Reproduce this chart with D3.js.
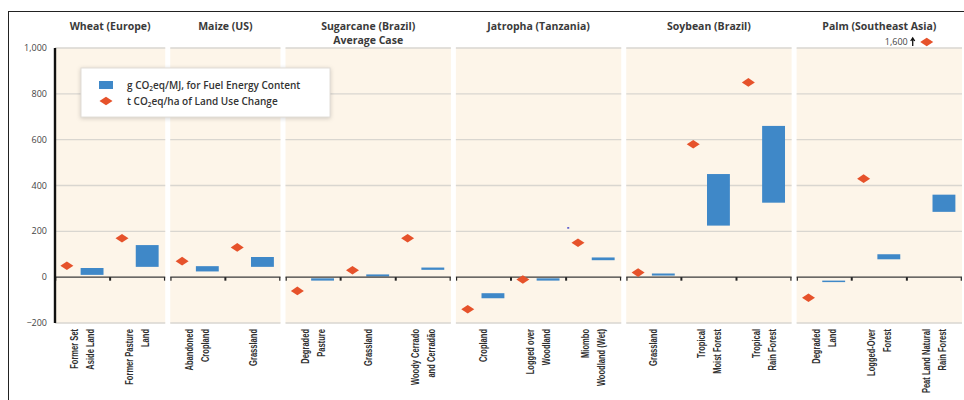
<!DOCTYPE html>
<html>
<head>
<meta charset="utf-8">
<script src="https://cdn.jsdelivr.net/npm/d3@7"></script>
<style>
  html, body { margin: 0; padding: 0; background: #ffffff; }
  svg { display: block; }
  .title { font-family: "Open Sans", "Noto Sans", sans-serif; font-weight: 700; font-size: 10.5px; fill: #3a3a3a; }
  .ytick { font-family: "Open Sans", "Noto Sans", sans-serif; font-size: 9px; fill: #444; }
  .cat { font-family: "Liberation Sans", "Arial", sans-serif; font-size: 10.5px; font-weight: 700; fill: #2e2e2e; }
  .legend { font-family: "Open Sans", "Noto Sans", sans-serif; font-weight: 600; font-size: 10px; fill: #333; }
</style>
</head>
<body>
<svg id="chart" width="964" height="400"></svg>
<script>
// Crops (panel titles) and the land types converted for each one
const crops = ["Wheat (Europe)", "Maize (US)", "Sugarcane (Brazil)|Average Case",
               "Jatropha (Tanzania)", "Soybean (Brazil)", "Palm (Southeast Asia)"];
const landTypes = [
  ["Former Set|Aside Land", "Former Pasture|Land"],
  ["Abandoned|Cropland", "Grassland"],
  ["Degraded|Pasture", "Grassland", "Woody Cerrado|and Cerradão"],
  ["Cropland", "Logged over|Woodland", "Miombo|Woodland (Wet)"],
  ["Grassland", "Tropical|Moist Forest", "Tropical|Rain Forest"],
  ["Degraded|Land", "Logged-Over|Forest", "Peat Land Natural|Rain Forest"]
];
// g CO2eq/MJ for fuel energy content: low end of each range
const fuelLow = [
  [10, 45],
  [25, 45],
  [-15, 3, 32],
  [-92, -15, 74],
  [7, 225, 325],
  [-20, 78, 285]
];
// g CO2eq/MJ for fuel energy content: high end of each range
const fuelHigh = [
  [40, 140],
  [48, 88],
  [-5, 12, 42],
  [-70, -5, 86],
  [16, 450, 660],
  [-15, 100, 360]
];
// t CO2eq/ha of land use change
const landUseChange = [
  [50, 170],
  [70, 130],
  [-60, 30, 170],
  [-140, -10, 150],
  [20, 580, 850],
  [-90, 430, 1600]
];
// Stray point drawn in the Jatropha panel (Miombo woodland)
const jatrophaPoint = { panel: 3, slot: 2, value: 215 };
const yTicks = [-200, 0, 200, 400, 600, 800, 1000];
const yMin = -200, yMax = 1000;

const svg = d3.select("#chart");

// Outer frame (top and left edges)
svg.append("line").attr("x1", 8).attr("x2", 964).attr("y1", 11.5).attr("y2", 11.5)
  .attr("stroke", "#222").attr("stroke-width", 1);
svg.append("line").attr("x1", 8.5).attr("x2", 8.5).attr("y1", 11).attr("y2", 400)
  .attr("stroke", "#222").attr("stroke-width", 1);

const plotLeft = 55, plotRight = 962, gap = 5;
const y = d3.scaleLinear().domain([yMin, yMax]).range([323, 48]);

// Panel widths proportional to number of land types
const totalSlots = d3.sum(landTypes, d => d.length);
const slotW = (plotRight - plotLeft - gap * (crops.length - 1)) / totalSlots;
let cursor = plotLeft;
const panels = crops.map((c, i) => {
  const n = landTypes[i].length;
  const x0 = cursor, x1 = cursor + n * slotW;
  cursor = x1 + gap;
  const band = d3.scaleBand().domain(d3.range(n)).range([x0, x1]).padding(0);
  return { title: c, x0, x1, band, items: landTypes[i].map((lt, j) => ({
    label: lt, lo: fuelLow[i][j], hi: fuelHigh[i][j], luc: landUseChange[i][j]
  })) };
});

const diamond = "M-6.5,0L0,-4.3L6.5,0L0,4.3Z";
const gPanels = svg.append("g");
panels.forEach((p, pi) => {
  const g = gPanels.append("g");
  // background
  g.append("rect").attr("x", p.x0).attr("y", y(yMax)).attr("width", p.x1 - p.x0)
    .attr("height", y(yMin) - y(yMax)).attr("fill", "#fdf5e9");
  // gridlines
  g.selectAll("line.grid").data(yTicks.filter(t => t !== 0)).join("line")
    .attr("x1", p.x0).attr("x2", p.x1)
    .attr("y1", d => y(d)).attr("y2", d => y(d))
    .attr("stroke", "#d9d6d0").attr("stroke-width", 1.4);
  // title
  p.title.split("|").forEach((s, k) => {
    g.append("text").attr("class", "title").attr("text-anchor", "middle")
      .attr("x", (p.x0 + p.x1) / 2).attr("y", 29.5 + k * 14).text(s);
  });

  const bw = p.band.bandwidth();
  // bars: fuel energy content range
  g.selectAll("rect.bar").data(p.items).join("rect")
    .attr("x", (d, j) => p.band(j) + bw * 0.465)
    .attr("width", bw * 0.415)
    .attr("y", d => y(d.hi))
    .attr("height", d => Math.max(1.5, y(d.lo) - y(d.hi)))
    .attr("fill", "#3f88c8");
  // zero axis with ticks on land type boundaries
  g.append("line").attr("x1", p.x0).attr("x2", p.x1).attr("y1", y(0)).attr("y2", y(0))
    .attr("stroke", "#3a3a3a").attr("stroke-width", 1.4);
  g.selectAll("line.tk").data(d3.range(p.items.length + 1)).join("line")
    .attr("x1", j => Math.min(Math.max(p.x0 + j * bw, p.x0 + 0.7), p.x1 - 0.7))
    .attr("x2", j => Math.min(Math.max(p.x0 + j * bw, p.x0 + 0.7), p.x1 - 0.7))
    .attr("y1", y(0)).attr("y2", y(0) + 3.5)
    .attr("stroke", "#222").attr("stroke-width", (d, j) => (j === 0 || j === p.items.length) ? 1.2 : 2);
  // diamonds: land use change (off-scale values sit above the frame)
  p.items.forEach((d, j) => {
    const off = d.luc > yMax;
    const cx = p.band(j) + bw * (off ? 0.36 : 0.215);
    const cy = off ? y(yMax) - 6 : y(d.luc);
    g.append("path").attr("transform", `translate(${cx},${cy})`).attr("d", diamond).attr("fill", "#e6522b");
    if (off) {
      g.append("text").attr("class", "ytick").attr("font-size", 8.5).attr("fill", "#556")
        .attr("text-anchor", "end").attr("x", cx - 19).attr("y", cy + 3)
        .text(d3.format(",")(d.luc));
      g.append("path").attr("d", `M${cx - 14},${cy + 4}V${cy - 3}M${cx - 16},${cy - 1}L${cx - 14},${cy - 4}L${cx - 12},${cy - 1}`)
        .attr("stroke", "#111").attr("stroke-width", 1.3).attr("fill", "none");
    }
  });
  // land type labels, rotated and condensed
  p.items.forEach((d, j) => {
    const lines = d.label.split("|");
    const xc = p.band(j) + bw / 2;
    lines.forEach((s, k) => {
      const lx = xc + (k - (lines.length - 1) / 2) * 16;
      g.append("text").attr("class", "cat").attr("text-anchor", "end")
        .attr("transform", `translate(${lx},329) rotate(-90) scale(0.72,1)`)
        .attr("dy", "0.35em").text(s);
    });
  });
});

// stray point in the Jatropha panel
{
  const p = panels[jatrophaPoint.panel];
  const bw = p.band.bandwidth();
  svg.append("rect").attr("x", p.band(jatrophaPoint.slot) + bw * 0.02)
    .attr("y", y(jatrophaPoint.value) - 0.8).attr("width", 2).attr("height", 1.6).attr("fill", "#5555cc");
}

// y axis
const yAxis = svg.append("g");
yAxis.append("line").attr("x1", plotLeft).attr("x2", plotLeft).attr("y1", y(yMax)).attr("y2", y(yMin))
  .attr("stroke", "#111").attr("stroke-width", 2.4);
yAxis.selectAll("text").data(yTicks).join("text").attr("class", "ytick")
  .attr("text-anchor", "end").attr("x", 47).attr("y", d => y(d) + 3)
  .text(d => d3.format(",")(d));

// legend
const lg = svg.append("g");
lg.append("rect").attr("x", 81).attr("y", 68).attr("width", 249).attr("height", 49)
  .attr("fill", "#ffffff").attr("stroke", "#e2ded8").attr("stroke-width", 1)
  .style("filter", "drop-shadow(0px 1px 2px rgba(0,0,0,0.18))");
lg.append("rect").attr("x", 99).attr("y", 81).attr("width", 14).attr("height", 8).attr("fill", "#3f88c8");
lg.append("path").attr("transform", "translate(106,101)").attr("d", diamond).attr("fill", "#e6522b");
const legendRows = [["g CO", "eq/MJ, for Fuel Energy Content", 88.5], ["t CO", "eq/ha of Land Use Change", 104.5]];
legendRows.forEach(([a, b, yy]) => {
  const t = lg.append("text").attr("class", "legend").attr("x", 127).attr("y", yy);
  t.append("tspan").text(a);
  t.append("tspan").attr("font-size", 6.5).attr("dy", 2).text("2");
  t.append("tspan").attr("dy", -2).text(b);
});
</script>
</body>
</html>
